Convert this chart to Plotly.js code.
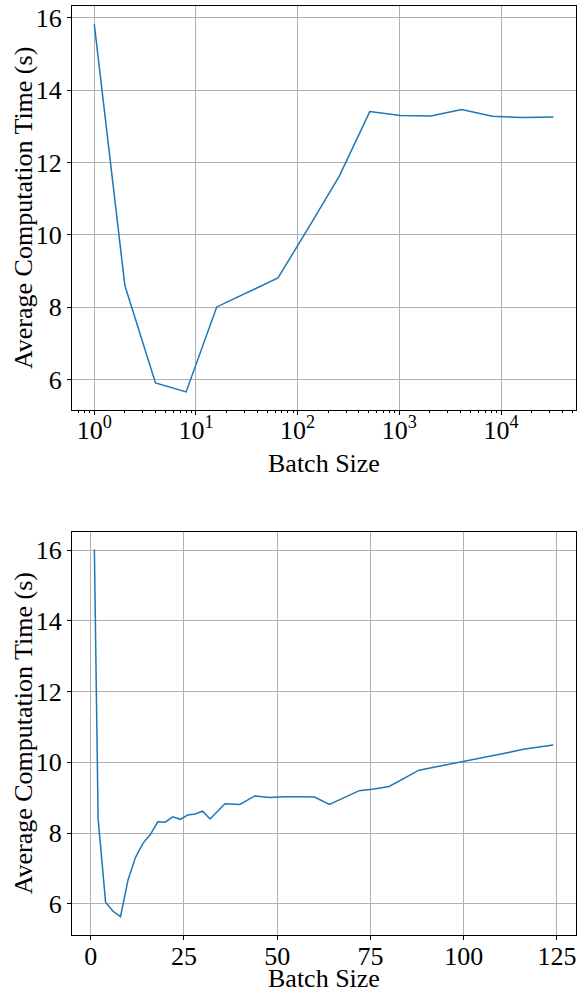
<!DOCTYPE html>
<html>
<head>
<meta charset="utf-8">
<script src="https://cdn.plot.ly/plotly-3.0.1.min.js"></script>
<style>html,body{margin:0;padding:0;background:#fff;}#chart{width:586px;height:990px;}</style>
</head>
<body>
<div id="chart"></div>
<script>
// Top panel: batch sizes (powers of two) on a log axis
const batchLog = [1, 2, 4, 8, 16, 32, 64, 128, 256, 512, 1024, 2048, 4096, 8192, 16384, 32768];
const timeLog = [15.83, 8.60, 5.91, 5.66, 8.01, 8.42, 8.81, 10.2, 11.62, 13.41, 13.30, 13.29, 13.47, 13.28, 13.25, 13.26];

// Bottom panel: small batch sizes on a linear axis
const batchLin = [1, 2, 4, 6, 8, 10, 12, 14, 16, 18, 20, 22, 24, 26, 28, 30, 32,
  36, 40, 44, 48, 52, 56, 60, 64, 68, 72, 76, 80, 84, 88, 92, 96, 100, 104, 108, 112, 116, 120, 124];
const timeLin = [16.02, 8.41, 6.05, 5.79, 5.64, 6.67, 7.31, 7.71, 7.96, 8.32, 8.31, 8.46, 8.39, 8.51, 8.54, 8.62, 8.40,
  8.83, 8.81, 9.05, 9.01, 9.03, 9.025, 9.02, 8.81, 9.01, 9.20, 9.25, 9.32, 9.55, 9.78, 9.86, 9.94, 10.02, 10.10, 10.18, 10.28, 10.37, 10.43, 10.49];

const logTickVals = [1, 10, 100, 1000, 10000];
const logTickText = ['10<sup>0</sup>', '10<sup>1</sup>', '10<sup>2</sup>', '10<sup>3</sup>', '10<sup>4</sup>'];
const yTickVals = [6, 8, 10, 12, 14, 16];
const linTickVals = [0, 25, 50, 75, 100, 125];
const xTitle = 'Batch Size';
const yTitle = 'Average Computation Time (s)';

const minorVals = [];
for (let e = -1; e <= 4; e++) {
  for (let m = 2; m <= 9; m++) minorVals.push(m * Math.pow(10, e));
}

const FONT = 'Liberation Serif';
const lineColor = '#1f77b4';
const gridColor = '#b0b0b0';
const titleFont = {family: FONT, size: 26, color: '#000'};

const axisCommon = {
  showline: true, mirror: true, linecolor: '#000', linewidth: 1,
  ticks: 'outside', ticklen: 4, tickwidth: 1, tickcolor: '#000',
  showgrid: true, gridcolor: gridColor, gridwidth: 1,
  zeroline: false, automargin: false,
  tickfont: {family: FONT, size: 26, color: '#000'}
};

const data = [
  {x: batchLog, y: timeLog, xaxis: 'x', yaxis: 'y', type: 'scatter', mode: 'lines',
   line: {color: lineColor, width: 1.5}, showlegend: false, hoverinfo: 'skip'},
  {x: batchLin, y: timeLin, xaxis: 'x2', yaxis: 'y2', type: 'scatter', mode: 'lines',
   line: {color: lineColor, width: 1.5}, showlegend: false, hoverinfo: 'skip'}
];

const topDom = [0.5651, 1];
const botDom = [0, 0.4341];

const layout = {
  width: 586, height: 990,
  margin: {l: 72, r: 10, t: 6, b: 55},
  paper_bgcolor: '#fff', plot_bgcolor: '#fff',
  font: {family: FONT, size: 26, color: '#000'},
  xaxis: Object.assign({}, axisCommon, {
    type: 'log', domain: [0, 1], anchor: 'y',
    range: [-0.219, 4.737],
    tickmode: 'array', tickvals: logTickVals, ticktext: logTickText,
    ticklabelstandoff: -7,
    minor: {tickmode: 'array', tickvals: minorVals, ticks: 'outside', ticklen: 2, tickcolor: '#000', showgrid: false}
  }),
  yaxis: Object.assign({}, axisCommon, {
    domain: topDom, anchor: 'x',
    range: [5.16, 16.33],
    tickmode: 'array', tickvals: yTickVals
  }),
  xaxis2: Object.assign({}, axisCommon, {
    domain: [0, 1], anchor: 'y2',
    range: [-5.0, 130.1],
    tickmode: 'array', tickvals: linTickVals,
    ticklabelstandoff: -6
  }),
  yaxis2: Object.assign({}, axisCommon, {
    domain: botDom, anchor: 'x2',
    range: [5.12, 16.52],
    tickmode: 'array', tickvals: yTickVals
  }),
  annotations: [
    {text: xTitle, xref: 'paper', yref: 'paper', x: 0.5, y: 0.508, xanchor: 'center', yanchor: 'middle',
     showarrow: false, font: titleFont},
    {text: xTitle, xref: 'paper', yref: 'paper', x: 0.5, y: -0.0463, xanchor: 'center', yanchor: 'middle',
     showarrow: false, font: titleFont},
    {text: yTitle, xref: 'paper', yref: 'paper', x: -0.0972, y: (topDom[0] + topDom[1]) / 2, xanchor: 'center', yanchor: 'middle',
     textangle: -90, showarrow: false, font: titleFont},
    {text: yTitle, xref: 'paper', yref: 'paper', x: -0.0972, y: (botDom[0] + botDom[1]) / 2, xanchor: 'center', yanchor: 'middle',
     textangle: -90, showarrow: false, font: titleFont}
  ]
};

Plotly.newPlot('chart', data, layout, {displayModeBar: false, staticPlot: true});
</script>
</body>
</html>
